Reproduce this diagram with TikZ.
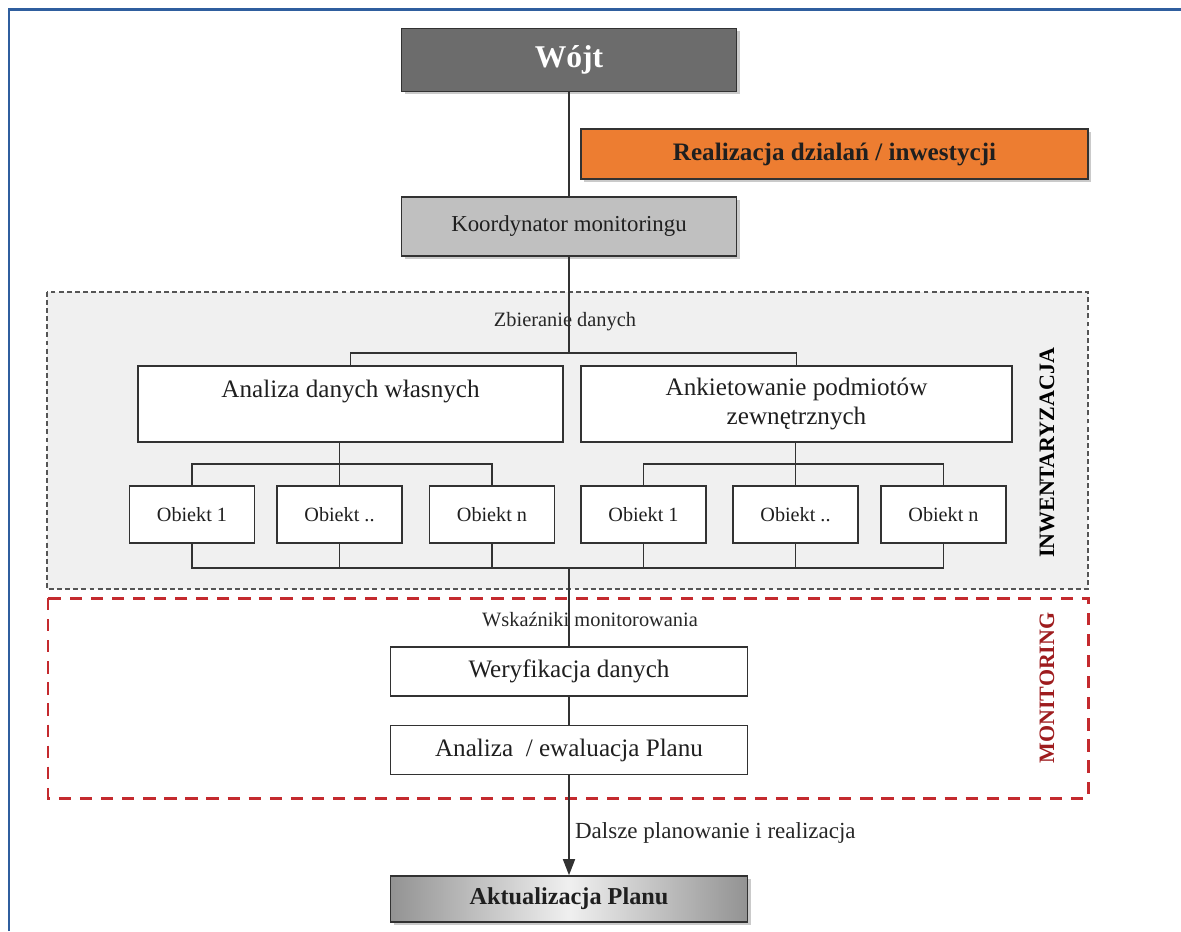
\documentclass[tikz,border=0pt]{standalone}
\usepackage{fontspec}
\setmainfont{Liberation Serif}
\usetikzlibrary{arrows.meta,positioning,shadows}
\definecolor{frameblue}{RGB}{47,94,158}
\definecolor{headgray}{RGB}{108,108,108}
\definecolor{coordgray}{RGB}{192,192,192}
\definecolor{zonegray}{RGB}{240,240,240}
\definecolor{zoneline}{RGB}{85,85,85}
\definecolor{boxline}{RGB}{50,50,50}
\definecolor{actorange}{RGB}{237,125,49}
\definecolor{zonered}{RGB}{196,42,46}
\definecolor{monred}{RGB}{158,28,30}

\begin{document}
\begin{tikzpicture}[
    box/.style={draw=boxline, line width=0.9pt, text=black!88, align=center, inner sep=2pt},
    headbox/.style={box, minimum width=6.7cm, minimum height=1.26cm},
    databox/.style={box, fill=white, minimum height=1.52cm, font=\fontsize{14.3}{17}\selectfont},
    objbox/.style={box, fill=white, minimum width=2.5cm, minimum height=1.14cm, font=\fontsize{11.5}{14}\selectfont},
    stepbox/.style={box, fill=white, minimum width=7.14cm, minimum height=0.98cm, font=\fontsize{14.3}{17}\selectfont},
    shade/.style={drop shadow={shadow xshift=0.06cm, shadow yshift=-0.06cm, fill=black!35, opacity=0.6}},
    note/.style={inner sep=1pt, text=black!85, font=\fontsize{11.6}{14}\selectfont},
    sidelabel/.style={rotate=90, font=\bfseries\fontsize{12.5}{15}\selectfont},
    link/.style={draw=boxline, line width=0.9pt},
    arrow/.style={link, -{Triangle[length=3.2mm, width=2.4mm]}}
]
\useasboundingbox (0,0) rectangle (23.62,-18.62);
\draw[frameblue, line width=1.7pt] (0.18,-18.62) -- (0.18,-0.19) -- (23.62,-0.19);

% Zones
\draw[zoneline, fill=zonegray, line width=1.1pt, dash pattern=on 2.8pt off 1.8pt] (0.94,-5.84) rectangle (21.76,-11.78);
\draw[zonered, line width=1.7pt, dash pattern=on 7pt off 5pt] (0.96,-11.96) rectangle (21.76,-15.96);
\node[sidelabel] (inw) at (20.94,-9.06) {INWENTARYZACJA};
\node[sidelabel, text=monred] (mon) at (20.94,-13.76) {MONITORING};

% Top
\node[headbox, fill=headgray, shade, text=white, font=\bfseries\fontsize{18}{21}\selectfont] (wojt) at (11.38,-1.2) {Wójt};
\node[box, fill=actorange, shade, minimum width=10.14cm, minimum height=1.0cm, font=\bfseries\fontsize{14.3}{17}\selectfont] (real) at (16.69,-3.08) {Realizacja dzialań / inwestycji};
\node[headbox, fill=coordgray, shade, minimum height=1.18cm, font=\fontsize{13}{16}\selectfont] (koord) at (11.38,-4.53) {Koordynator monitoringu};

% Data collection
\node[note] (zbier) at (11.3,-6.44) {Zbieranie danych};
\node[databox, minimum width=8.5cm] (analiza) at (7.01,-8.08) {Analiza danych własnych\\~};
\node[databox, minimum width=8.62cm] (ankiet) at (15.93,-8.08) {Ankietowanie podmiotów\\zewnętrznych};
\coordinate (split) at (11.38,-7.06);

\node[objbox] (obA1) at (3.84,-10.29) {Obiekt 1};
\node[objbox] (obA2) at (6.79,-10.29) {Obiekt ..};
\node[objbox] (obA3) at (9.84,-10.29) {Obiekt n};
\node[objbox] (obB1) at (12.87,-10.29) {Obiekt 1};
\node[objbox] (obB2) at (15.91,-10.29) {Obiekt ..};
\node[objbox] (obB3) at (18.87,-10.29) {Obiekt n};
\coordinate (join) at (11.38,-11.36);

% Monitoring
\node[note] (wskaz) at (11.8,-12.4) {Wskaźniki monitorowania};
\node[stepbox] (weryf) at (11.38,-13.43) {Weryfikacja danych};
\node[stepbox] (ewal) at (11.38,-15.0) {Analiza \ / ewaluacja Planu};
\node[box, shade, left color=gray!85, right color=gray!85, middle color=gray!12, minimum width=7.14cm, minimum height=0.92cm, font=\bfseries\fontsize{13.8}{16}\selectfont] (aktual) at (11.38,-17.98) {Aktualizacja Planu};

% Connectors
\draw[link] (wojt) -- (koord);
\draw[link] (koord) -- (split);
\draw[link] (analiza.north) |- (split) -| (ankiet.north);
\draw[link] (analiza.south -| obA2) -- ++(0,-0.42);
\draw[link] (obA1.north) -- ++(0,0.42) -| (obA3.north);
\draw[link] (obA2.north) -- ++(0,0.42);
\draw[link] (ankiet.south -| obB2) -- ++(0,-0.42);
\draw[link] (obB1.north) -- ++(0,0.42) -| (obB3.north);
\draw[link] (obB2.north) -- ++(0,0.42);
\foreach \n in {obA2,obA3,obB1,obB2}
    \draw[link] (\n.south) -- ++(0,-0.5);
\draw[link] (obA1.south) |- (join) -| (obB3.south);
\draw[link] (join) -- (weryf);
\draw[link] (weryf) -- (ewal);
\draw[arrow] (ewal) -- (aktual) node[pos=0.58, right, inner sep=3pt, font=\fontsize{13.1}{16}\selectfont, text=black!85] {Dalsze planowanie i realizacja};
\end{tikzpicture}
\end{document}
